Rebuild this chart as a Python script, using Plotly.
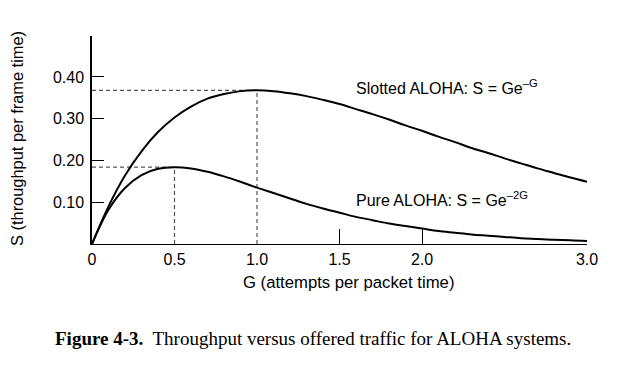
import plotly.graph_objects as go

G = [0.0, 0.1, 0.2, 0.3, 0.4, 0.5, 0.6, 0.7, 0.8, 0.9, 1.0, 1.1, 1.2, 1.3, 1.4, 1.5,
     1.6, 1.7, 1.8, 1.9, 2.0, 2.1, 2.2, 2.3, 2.4, 2.5, 2.6, 2.7, 2.8, 2.9, 3.0]
S_slotted = [0.0, 0.090, 0.164, 0.222, 0.268, 0.303, 0.329, 0.348, 0.359, 0.366, 0.368,
             0.366, 0.361, 0.354, 0.345, 0.335, 0.323, 0.311, 0.298, 0.284, 0.271,
             0.257, 0.244, 0.230, 0.218, 0.205, 0.193, 0.181, 0.170, 0.159, 0.149]
S_pure = [0.0, 0.082, 0.134, 0.165, 0.180, 0.184, 0.181, 0.173, 0.162, 0.149, 0.135,
          0.122, 0.109, 0.096, 0.085, 0.075, 0.065, 0.057, 0.049, 0.043, 0.037,
          0.031, 0.027, 0.023, 0.020, 0.017, 0.014, 0.012, 0.010, 0.009, 0.007]
peak_G = [0.5, 1.0]
peak_S = [0.184, 0.368]

x_tickvals = [0, 0.5, 1.0, 1.5, 2.0, 3.0]
x_ticktext = ["0", "0.5", "1.0", "1.5", "2.0", "3.0"]
x_marked_ticks = [1.5, 2.0, 3.0]
y_tickvals = [0.10, 0.20, 0.30, 0.40]
y_ticktext = ["0.10", "0.20", "0.30", "0.40"]

FONT = "Liberation Sans, Arial, Helvetica, sans-serif"

fig = go.Figure()
fig.add_trace(go.Scatter(x=G, y=S_slotted, mode="lines", line=dict(color="black", width=2, shape="spline"),
                         showlegend=False, hoverinfo="skip"))
fig.add_trace(go.Scatter(x=G, y=S_pure, mode="lines", line=dict(color="black", width=2, shape="spline"),
                         showlegend=False, hoverinfo="skip"))
# invisible trace on second axis for tick marks only
fig.add_trace(go.Scatter(x=[0, 3], y=[0, 0], xaxis="x2", mode="lines",
                         line=dict(width=0), showlegend=False, hoverinfo="skip"))

for g, s in zip(peak_G, peak_S):
    fig.add_shape(type="line", xref="x", yref="y", x0=0, x1=g, y0=s, y1=s,
                  line=dict(color="#555555", width=1.2, dash="4px,3px"), layer="below")
    fig.add_shape(type="line", xref="x", yref="y", x0=g, x1=g, y0=0, y1=s,
                  line=dict(color="#555555", width=1.2, dash="4px,3px"), layer="below")

fig.update_layout(
    width=639, height=370,
    margin=dict(l=84, r=60, t=28, b=134),
    paper_bgcolor="white", plot_bgcolor="white",
    font=dict(family=FONT, size=16, color="black"),
    xaxis=dict(range=[0, 3.0], tickvals=x_tickvals, ticktext=x_ticktext, ticks="",
               showline=True, linecolor="black", linewidth=1.2, showgrid=False,
               zeroline=False, ticklabelstandoff=1, fixedrange=True),
    xaxis2=dict(range=[0, 3.0], overlaying="x", tickvals=x_marked_ticks, ticks="inside",
                ticklen=15, tickwidth=1.2, tickcolor="black", showticklabels=False,
                showline=False, showgrid=False, zeroline=False, side="bottom", anchor="y"),
    yaxis=dict(range=[0, 0.498], tickvals=y_tickvals, ticktext=y_ticktext, ticks="inside",
               ticklen=12, tickwidth=1.2, tickcolor="black", showline=True, linecolor="black",
               linewidth=1.5, showgrid=False, zeroline=False, ticklabelstandoff=3, fixedrange=True),
)

fig.add_annotation(x=1.59, y=0.376, xref="x", yref="y", xanchor="left", yanchor="middle",
                   text="Slotted ALOHA: S = Ge<sup>–G</sup>", showarrow=False, font=dict(size=16))
fig.add_annotation(x=1.59, y=0.108, xref="x", yref="y", xanchor="left", yanchor="middle",
                   text="Pure ALOHA: S = Ge<sup>–2G</sup>", showarrow=False, font=dict(size=16))
fig.add_annotation(x=0.518, y=-0.187, xref="paper", yref="paper", xanchor="center", yanchor="middle",
                   text="G (attempts per packet time)", showarrow=False, font=dict(size=16.7))
fig.add_annotation(x=-0.1515, y=0.505, xref="paper", yref="paper", xanchor="center", yanchor="middle",
                   text="S (throughput per frame time)", textangle=-90, showarrow=False,
                   borderpad=0, font=dict(size=16.4))
fig.add_annotation(x=0.4455, y=-0.452, xref="paper", yref="paper", xanchor="center", yanchor="middle",
                   text="<b>Figure 4-3.</b>  Throughput versus offered traffic for ALOHA systems.",
                   showarrow=False, font=dict(size=19, family="Liberation Serif, Times New Roman, serif"))

fig.write_html("out.html")
